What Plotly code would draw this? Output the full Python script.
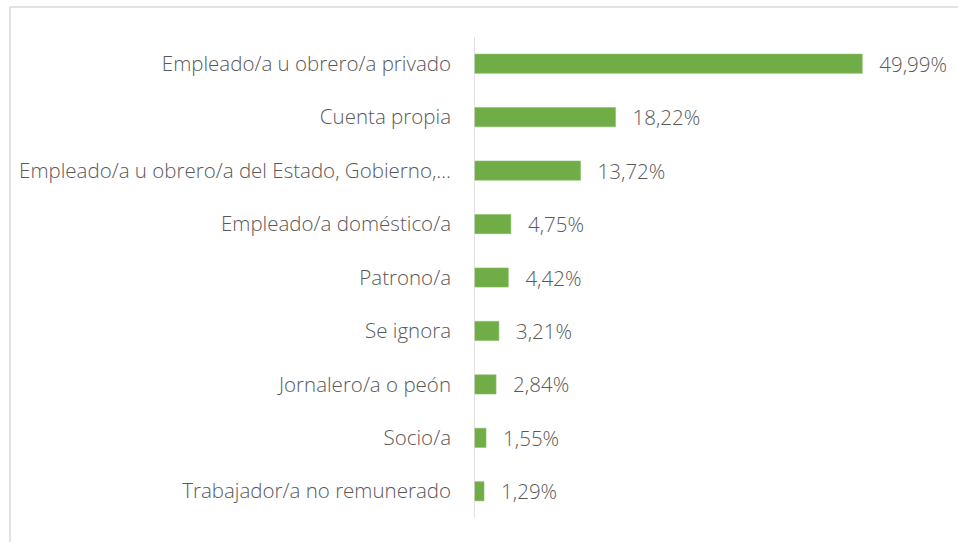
import plotly.graph_objects as go

categories = [
    "Empleado/a u obrero/a privado",
    "Cuenta propia",
    "Empleado/a u obrero/a del Estado, Gobierno,…",
    "Empleado/a doméstico/a",
    "Patrono/a",
    "Se ignora",
    "Jornalero/a o peón",
    "Socio/a",
    "Trabajador/a no remunerado",
]
values = [49.99, 18.22, 13.72, 4.75, 4.42, 3.21, 2.84, 1.55, 1.29]
value_labels = ["49,99%", "18,22%", "13,72%", "4,75%", "4,42%", "3,21%", "2,84%", "1,55%", "1,29%"]

W, H = 958, 542
ml, mr, mt, mb = 474, 18, 37, 24
pw, ph = W - ml - mr, H - mt - mb

TEXT = "#595959"
FONT = "Open Sans"
FS = 20.5

fig = go.Figure(go.Bar(
    x=values,
    y=categories,
    orientation="h",
    marker=dict(color="#70AD47", line=dict(color="#8DC06A", width=0.6)),
    width=0.36,
    text=["  \u2009" + t for t in value_labels],
    textposition="outside",
    constraintext="none",
    textfont=dict(family=FONT, size=FS, color=TEXT, weight=300),
    cliponaxis=False,
    hoverinfo="skip",
))

fig.update_layout(
    width=W, height=H,
    margin=dict(l=ml, r=mr, t=mt, b=mb),
    paper_bgcolor="white",
    plot_bgcolor="white",
    showlegend=False,
    font=dict(family=FONT, size=FS, color=TEXT, weight=300),
    xaxis=dict(range=[0, 60], visible=False, showgrid=False, zeroline=False),
    yaxis=dict(
        autorange="reversed",
        showgrid=False,
        zeroline=False,
        showline=False,
        ticks="",
        ticklabelstandoff=22,
        tickfont=dict(family=FONT, size=FS, color=TEXT, weight=300),
    ),
    shapes=[
        dict(type="line", xref="x", yref="paper", x0=0, x1=0, y0=0, y1=1,
             line=dict(color="#D9D9D9", width=1.5)),
        dict(type="line", xref="paper", yref="paper",
             x0=(10 - ml) / pw, x1=1.2, y0=(H - mb - 7) / ph, y1=(H - mb - 7) / ph,
             line=dict(color="#D9D9D9", width=1.5)),
        dict(type="line", xref="paper", yref="paper",
             x0=(10 - ml) / pw, x1=(10 - ml) / pw, y0=-0.2, y1=(H - mb - 7) / ph,
             line=dict(color="#D9D9D9", width=1.5)),
    ],
)

fig.write_html(
    "out.html",
    config={"displayModeBar": False},
    post_script="document.body.style.margin='0';document.body.style.overflow='hidden';",
)
